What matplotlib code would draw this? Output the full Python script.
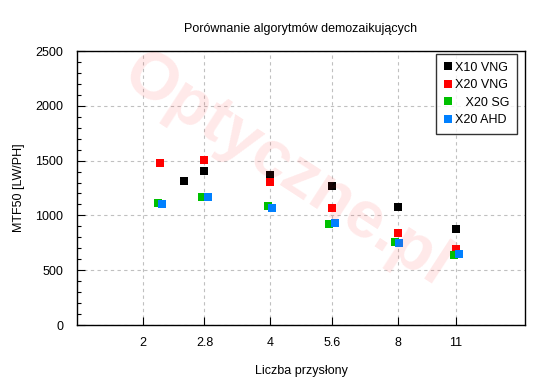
import matplotlib
matplotlib.use("Agg")
import matplotlib.pyplot as plt
from matplotlib.ticker import FixedLocator, NullLocator, MultipleLocator

plt.rcParams['font.family'] = ['Liberation Sans', 'DejaVu Sans']

title = "Porównanie algorytmów demozaikujących"
xlabel = "Liczba przysłony"
ylabel = "MTF50 [LW/PH]"

xticks = [2, 2.8, 4, 5.6, 8, 11]
xtick_labels = ["2", "2.8", "4", "5.6", "8", "11"]

x10_vng_x = [2.5, 2.8, 4.0, 5.6, 8.0, 11.0]
x10_vng_y = [1312, 1402, 1366, 1265, 1074, 873]

x20_vng_x = [2.2, 2.8, 4.0, 5.6, 8.0, 11.0]
x20_vng_y = [1475, 1503, 1302, 1065, 837, 690]

x20_sg_x = [2.18, 2.76, 3.96, 5.5, 7.9, 10.9]
x20_sg_y = [1110, 1165, 1083, 919, 755, 636]

x20_ahd_x = [2.22, 2.85, 4.05, 5.7, 8.05, 11.2]
x20_ahd_y = [1101, 1165, 1065, 928, 745, 645]

series = [
    ("X10 VNG", x10_vng_x, x10_vng_y, "#000000"),
    ("X20 VNG", x20_vng_x, x20_vng_y, "#ff0000"),
    ("   X20 SG", x20_sg_x, x20_sg_y, "#00c000"),
    ("X20 AHD", x20_ahd_x, x20_ahd_y, "#0080ff"),
]

fig = plt.figure(figsize=(5.5, 3.8), dpi=100)
ax = fig.add_axes([77/550, 55/380, (525-77)/550, (325-51)/380])

# watermark
fig.text(0.52, 0.55, "Optyczne.pl", fontsize=48, fontweight='bold',
         color='#ff2020', alpha=0.10, rotation=-33, ha='center', va='center',
         zorder=0)

ax.set_xscale('log')
ax.set_xlim(1.4, 16.0)
ax.set_ylim(0, 2500)

for name, xs, ys, c in series:
    ax.plot(xs, ys, linestyle='none', marker='s', markersize=5.5,
            color=c, markeredgewidth=0, label=name, zorder=3)

ax.xaxis.set_major_locator(FixedLocator(xticks))
ax.xaxis.set_minor_locator(NullLocator())
ax.set_xticklabels(xtick_labels)
ax.yaxis.set_major_locator(MultipleLocator(500))
ax.yaxis.set_minor_locator(MultipleLocator(100))

ax.tick_params(axis='both', which='both', direction='in', labelsize=9,
               top=False, right=False)
ax.tick_params(axis='both', which='major', length=6, width=0.8)
ax.tick_params(axis='x', which='major', pad=9)
ax.tick_params(axis='y', which='major', pad=10)
ax.tick_params(axis='y', which='minor', length=3, width=0.8)

ax.grid(True, which='major', color='#c0c0c0', linestyle=(0, (3, 3)), linewidth=0.8)
for s in ax.spines.values():
    s.set_linewidth(1.0)
    s.set_color('black')

ax.set_title(title, fontsize=9, pad=14)
ax.set_xlabel(xlabel, fontsize=9, labelpad=11)
ax.set_ylabel(ylabel, fontsize=9, labelpad=7)

leg = ax.legend(loc='upper right', fontsize=9, frameon=True, fancybox=False,
                edgecolor='black', handlelength=0.6, handletextpad=0.3,
                borderpad=0.6, labelspacing=0.45, borderaxespad=0,
                bbox_to_anchor=(0.982, 0.989))
leg.get_frame().set_linewidth(1.0)

fig.savefig("out.png", dpi=100)
